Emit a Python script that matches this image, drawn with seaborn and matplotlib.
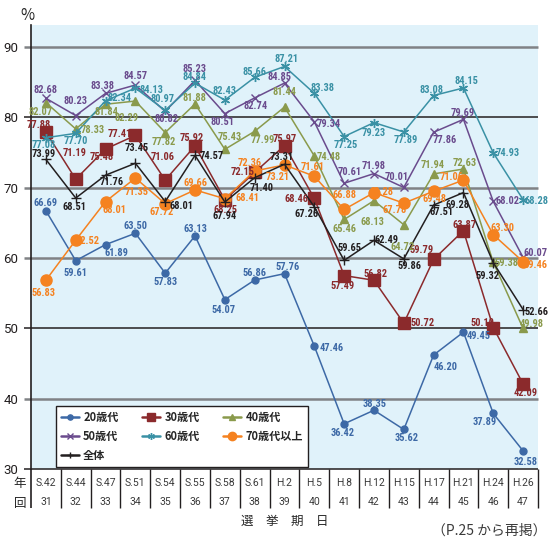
import pandas as pd
import seaborn as sns
import matplotlib.pyplot as plt
from matplotlib.lines import Line2D

# data
years = ["S.42", "S.44", "S.47", "S.51", "S.54", "S.55", "S.58", "S.61", "H.2",
         "H.5", "H.8", "H.12", "H.15", "H.17", "H.21", "H.24", "H.26"]
rounds = [31, 32, 33, 34, 35, 36, 37, 38, 39, 40, 41, 42, 43, 44, 45, 46, 47]

age20 = [66.69, 59.61, 61.89, 63.50, 57.83, 63.13, 54.07, 56.86, 57.76, 47.46,
         36.42, 38.35, 35.62, 46.20, 49.45, 37.89, 32.58]
age30 = [77.88, 71.19, 75.48, 77.41, 71.06, 75.92, 68.25, 72.15, 75.97, 68.46,
         57.49, 56.82, 50.72, 59.79, 63.87, 50.10, 42.09]
age40 = [82.07, 78.33, 81.84, 82.29, 77.82, 81.88, 75.43, 77.99, 81.44, 74.48,
         65.46, 68.13, 64.72, 71.94, 72.63, 59.38, 49.98]
age50 = [82.68, 80.23, 83.38, 84.57, 80.82, 85.23, 80.51, 82.74, 84.85, 79.34,
         70.61, 71.98, 70.01, 77.86, 79.69, 68.02, 60.07]
age60 = [77.08, 77.70, 82.34, 84.13, 80.97, 84.84, 82.43, 85.66, 87.21, 83.38,
         77.25, 79.23, 77.89, 83.08, 84.15, 74.93, 68.28]
age70 = [56.83, 62.52, 68.01, 71.35, 67.72, 69.66, 68.41, 72.36, 73.21, 71.61,
         66.88, 69.28, 67.78, 69.48, 71.06, 63.30, 59.46]
total = [73.99, 68.51, 71.76, 73.45, 68.01, 74.57, 67.94, 71.40, 73.31, 67.26,
         59.65, 62.49, 59.86, 67.51, 69.28, 59.32, 52.66]

names = ["20歳代", "30歳代", "40歳代", "50歳代", "60歳代", "70歳代以上", "全体"]
values = [age20, age30, age40, age50, age60, age70, total]

# label offsets in pixels (dx, dy) for each point
off20 = [(0, 8), (0, -12), (11, -8), (0, 7), (0, -9), (0, 7), (-1, -10), (0, 7), (3, 7),
         (17, -2), (-2, -9), (1, 6), (3, -9), (12, -12), (15, -4), (-9, -9), (3, -11)]
off30 = [(-7, 7), (-1, 26), (-4, -8), (-16, 1), (-3, 23), (-3, 8), (1, -10), (-12, 0), (0, 7),
         (-18, -1), (-2, -10), (2, 6), (19, 0), (-12, 9), (1, 6), (-11, 5), (3, -9)]
off40 = [(-5, -9), (17, -1), (1, -8), (-9, -17), (-1, -9), (-1, 6), (5, 12), (8, -9), (0, 15),
         (14, -1), (0, -10), (-2, -21), (-1, -22), (-1, 9), (1, 6), (13, -1), (9, 4)]
off50 = [(0, 8), (0, 15), (-3, 7), (0, 9), (1, -8), (-1, 11), (-2, -8), (1, -8), (-5, 6),
         (14, -2), (5, 11), (0, 8), (-7, 10), (11, -8), (-1, 6), (14, 0), (12, 4)]
off60 = [(-2, -7), (0, -8), (14, 3), (16, -2), (-3, 11), (-1, 6), (0, 9), (0, 5), (2, 7),
         (8, 5), (2, -8), (0, -10), (2, -8), (-2, 6), (3, 7), (14, 0), (13, -1)]
off70 = [(-2, -13), (12, -1), (9, -8), (1, -14), (-4, -8), (0, 7), (23, 1), (-5, 8), (-7, -12),
         (-2, 9), (0, 14), (8, 1), (-9, -7), (1, -8), (-12, 3), (9, 7), (12, -3)]
offall = [(-2, 5), (-1, -9), (6, -7), (1, 15), (16, -4), (17, -1), (0, -14), (7, -10), (-3, 7),
          (-8, -7), (5, 12), (13, 0), (6, -7), (8, -7), (-6, -12), (-6, -13), (13, -2)]
offsets = [off20, off30, off40, off50, off60, off70, offall]

colors = ["#3d69a6", "#8b2a2c", "#8a9a4c", "#6a4b8d", "#3a91a5", "#f58220", "#231f20"]
markers = ["o", "s", "^", "x", (6, 2, 0), "o", "+"]
msizes = [5, 8, 5.5, 5.5, 6.5, 8, 6.5]

narrow = ["Roboto Condensed", "Roboto", "DejaVu Sans"]
plain = ["Roboto", "DejaVu Sans"]
jp = ["Noto Sans CJK JP", "DejaVu Sans"]

sns.set_style("white")
plt.rcParams["font.family"] = jp

rows = []
for n, vals in zip(names, values):
    for i, v in enumerate(vals):
        rows.append({"x": i, "value": v, "group": n})
df = pd.DataFrame(rows)

fig = plt.figure(figsize=(5.5, 5.39), dpi=100)
ax = fig.add_axes([31 / 550, 70 / 539, 507 / 550, 444 / 539])
ax.set_facecolor("#e0f2fa")
ax.set_xlim(-0.5, 16.5)
ax.set_ylim(30, 93.1)

# horizontal grid lines (extend slightly left of the axis)
for yv in range(30, 100, 10):
    dark = yv in (30, 50, 80)
    ax.hlines(yv, -0.014, 1, transform=ax.get_yaxis_transform(), clip_on=False,
              color="#231f20" if dark else "#808285", lw=1.1 if dark else 1.8, zorder=1)

handles = []
for k, n in enumerate(names):
    sub = df[df["group"] == n]
    sns.lineplot(data=sub, x="x", y="value", ax=ax, color=colors[k], marker=markers[k],
                 markersize=msizes[k], markeredgecolor=colors[k], markeredgewidth=1.0,
                 linewidth=1.1, legend=False, zorder=3)
    handles.append(Line2D([], [], color=colors[k], marker=markers[k], markersize=msizes[k] * 0.75,
                          markeredgecolor=colors[k], lw=1.8, label=n))
    for i, v in enumerate(values[k]):
        dx, dy = offsets[k][i]
        ax.annotate(f"{v:.2f}", (i, v), xytext=(dx, dy), textcoords="offset pixels",
                    ha="center", va="center", fontsize=7.5, fontweight="bold",
                    color=colors[k], family=narrow, zorder=5)

ax.set_xlabel("")
ax.set_ylabel("")
ax.set_xticks([])
ax.set_yticks(range(30, 100, 10))
ax.set_yticklabels([str(t) for t in range(30, 100, 10)], fontsize=9.5, color="#231f20",
                   family=plain)
ax.tick_params(axis="y", length=0, pad=9)
for s in ["top", "right", "bottom"]:
    ax.spines[s].set_visible(False)
ax.spines["left"].set_color("#231f20")
ax.spines["left"].set_linewidth(1.2)
ax.spines["left"].set_bounds(30, 93.1)

# table under the chart
tb = -39 / 444
ax.vlines([i + 0.5 for i in range(17)], tb, 0, transform=ax.get_xaxis_transform(),
          clip_on=False, color="#231f20", lw=1.0)
ax.vlines([-0.5], tb, 0, transform=ax.get_xaxis_transform(), clip_on=False,
          color="#231f20", lw=1.2)
for i in range(17):
    ax.text(i, -14 / 444, years[i], transform=ax.get_xaxis_transform(), ha="center",
            va="center", fontsize=7.5, color="#3a3a3a", family=plain)
    ax.text(i, -33 / 444, str(rounds[i]), transform=ax.get_xaxis_transform(), ha="center",
            va="center", fontsize=7.5, color="#3a3a3a", family=plain)
fig.text(20 / 550, 1 - 484 / 539, "年", ha="center", va="center", fontsize=9)
fig.text(20 / 550, 1 - 503 / 539, "回", ha="center", va="center", fontsize=9)
fig.text(285 / 550, 1 - 521 / 539, "選　挙　期　日", ha="center", va="center", fontsize=9)
fig.text(546 / 550, 1 - 531 / 539, "（P.25 から再掲）", ha="right", va="center", fontsize=10,
         color="#3a3a3a")
fig.text(27 / 550, 1 - 16 / 539, "%", ha="center", va="center", fontsize=11)

order = [0, 3, 6, 1, 4, 2, 5]
leg = ax.legend([handles[i] for i in order], [names[i] for i in order], ncol=3,
                loc="lower left", bbox_to_anchor=(25 / 507, 2 / 444, 252 / 507, 63 / 444),
                mode="expand", borderaxespad=0, frameon=True, fancybox=False,
                edgecolor="#231f20", handlelength=1.6, handletextpad=0.4,
                labelspacing=0.55, borderpad=0.45, columnspacing=0.5,
                prop={"family": jp, "weight": "bold", "size": 8})
leg.get_frame().set_linewidth(1.0)
leg.get_frame().set_facecolor("white")
leg.get_frame().set_alpha(1)
leg.set_zorder(6)

fig.savefig("out.png", dpi=100)
